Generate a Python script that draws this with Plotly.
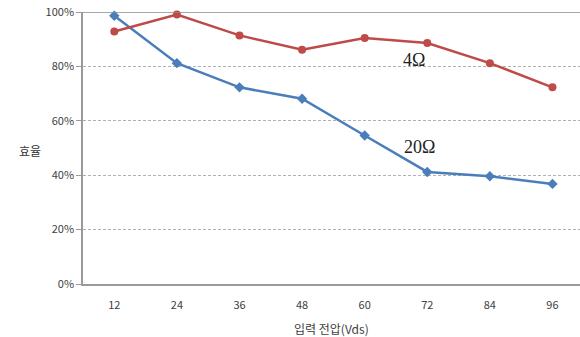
import plotly.graph_objects as go

# Input voltage (Vds) categories and efficiency per load
voltages = ["12", "24", "36", "48", "60", "72", "84", "96"]
eff_4ohm = [0.928, 0.991, 0.914, 0.861, 0.904, 0.886, 0.812, 0.723]
eff_20ohm = [0.986, 0.812, 0.723, 0.681, 0.546, 0.412, 0.396, 0.368]
y_ticks = [0, 0.2, 0.4, 0.6, 0.8, 1.0]

BLUE = "#4a7ebb"
RED = "#be4b48"
TICK_FONT = dict(family="Noto Sans CJK KR, Noto Sans, sans-serif", size=11, color="#404040")
LABEL_FONT = dict(family="Liberation Serif, DejaVu Serif, serif", size=18, color="#222222")

fig = go.Figure()
fig.add_trace(go.Scatter(
    x=voltages, y=eff_20ohm, mode="lines+markers", name="20Ω",
    line=dict(color=BLUE, width=2.5),
    marker=dict(symbol="diamond", size=8, color=BLUE),
    cliponaxis=False,
))
fig.add_trace(go.Scatter(
    x=voltages, y=eff_4ohm, mode="lines+markers", name="4Ω",
    line=dict(color=RED, width=2.5),
    marker=dict(symbol="circle", size=8, color=RED),
    cliponaxis=False,
))

# Series labels placed next to the curves
fig.add_annotation(x=4.78, y=0.825, text="4Ω", showarrow=False, font=LABEL_FONT)
fig.add_annotation(x=4.88, y=0.505, text="20Ω", showarrow=False, font=LABEL_FONT)

# Axis titles
fig.add_annotation(xref="paper", yref="paper", x=-0.132, y=0.49, text="효율", showarrow=False,
                   font=dict(family="Noto Sans CJK KR, sans-serif", size=12, color="#303030"))
fig.add_annotation(xref="paper", yref="paper", x=0.5, y=-0.162, yanchor="middle",
                   text="입력 전압(Vds)", showarrow=False,
                   font=dict(family="Noto Sans CJK KR, sans-serif", size=12, color="#404040"))

# Solid top border at 100%
fig.add_shape(type="line", xref="paper", yref="y", x0=0, x1=1, y0=1.0, y1=1.0,
              line=dict(color="#8a8a8a", width=1.5))

fig.update_layout(
    width=580, height=337,
    margin=dict(l=83, r=0, t=12, b=53),
    paper_bgcolor="white", plot_bgcolor="white",
    showlegend=False,
    xaxis=dict(
        type="category", range=[-0.5, 7.44],
        showgrid=False, showline=True, linecolor="#9a9a9a", linewidth=1.5,
        ticks="", tickfont=TICK_FONT, ticklabelstandoff=10,
    ),
    yaxis=dict(
        range=[0, 1.0], tickvals=y_ticks, tickformat=".0%",
        showgrid=True, gridcolor="#b0b0b0", gridwidth=1, griddash="3px,2px",
        showline=True, linecolor="#9a9a9a", linewidth=1.5,
        ticks="outside", ticklen=5, tickcolor="#9a9a9a",
        tickfont=TICK_FONT, zeroline=False,
    ),
)

fig.write_html("out.html")
